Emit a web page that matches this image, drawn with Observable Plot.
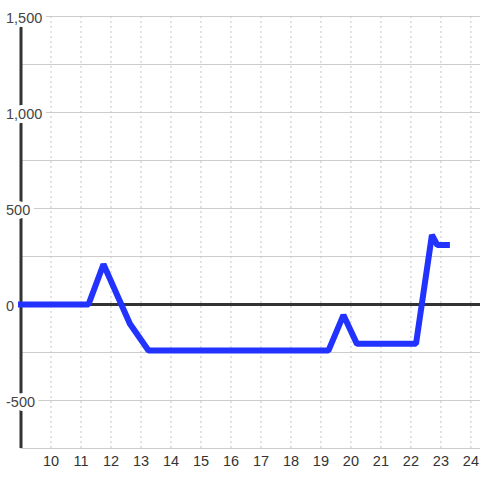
<!DOCTYPE html>
<html><head><meta charset="utf-8">
<script src="https://cdn.jsdelivr.net/npm/d3@7"></script>
<script src="https://cdn.jsdelivr.net/npm/@observablehq/plot@0.6"></script>
<style>body{margin:0;background:#fff}</style>
</head><body><div id="chart"></div>
<script>
const hours = [9, 11.25, 11.75, 12.63, 13.25, 19.25, 19.75, 20.2, 22.17, 22.7, 22.88, 23.2];
const values = [0, 0, 210, -100, -240, -240, -55, -205, -205, 362, 310, 310];
const xTicks = d3.range(10, 25);
const yGrid = d3.range(-750, 1501, 250);
const yLabels = [-500, 0, 500, 1000, 1500];
const data = hours.map((h, i) => ({h, v: values[i]}));
const chart = Plot.plot({
  width: 480, height: 480,
  marginLeft: 20.5, marginRight: 0, marginTop: 16, marginBottom: 32,
  x: {domain: [9, 24.32], axis: null},
  y: {domain: [-750, 1500], axis: null},
  style: {fontFamily: "'Liberation Sans', Arial, sans-serif", fontSize: "14px", background: "white"},
  marks: [
    Plot.ruleY(yGrid, {stroke: "#ccc", strokeWidth: 1}),
    Plot.ruleX(xTicks, {stroke: "#c4c4c4", strokeDasharray: "2,3"}),
    Plot.ruleY([0], {stroke: "#333", strokeWidth: 3}),
    Plot.ruleX([9], {stroke: "#333", strokeWidth: 3}),
    Plot.text(yLabels, {x: 9, y: d => d, text: d => d.toLocaleString("en-US"), textAnchor: "start", dx: -15, dy: 1.5, fill: "#444", stroke: "white", strokeWidth: 8, strokeLinejoin: "round", paintOrder: "stroke", fontSize: 14.5}),
    Plot.text(xTicks, {x: d => d, y: -750, text: d => String(d), dy: 13, fill: "#333", fontSize: 14.5}),
    Plot.line(data, {x: "h", y: "v", stroke: "#2233ff", strokeWidth: 6, strokeLinejoin: "miter", strokeLinecap: "square"})
  ]
});
document.getElementById("chart").appendChild(chart);
</script>
</body></html>
